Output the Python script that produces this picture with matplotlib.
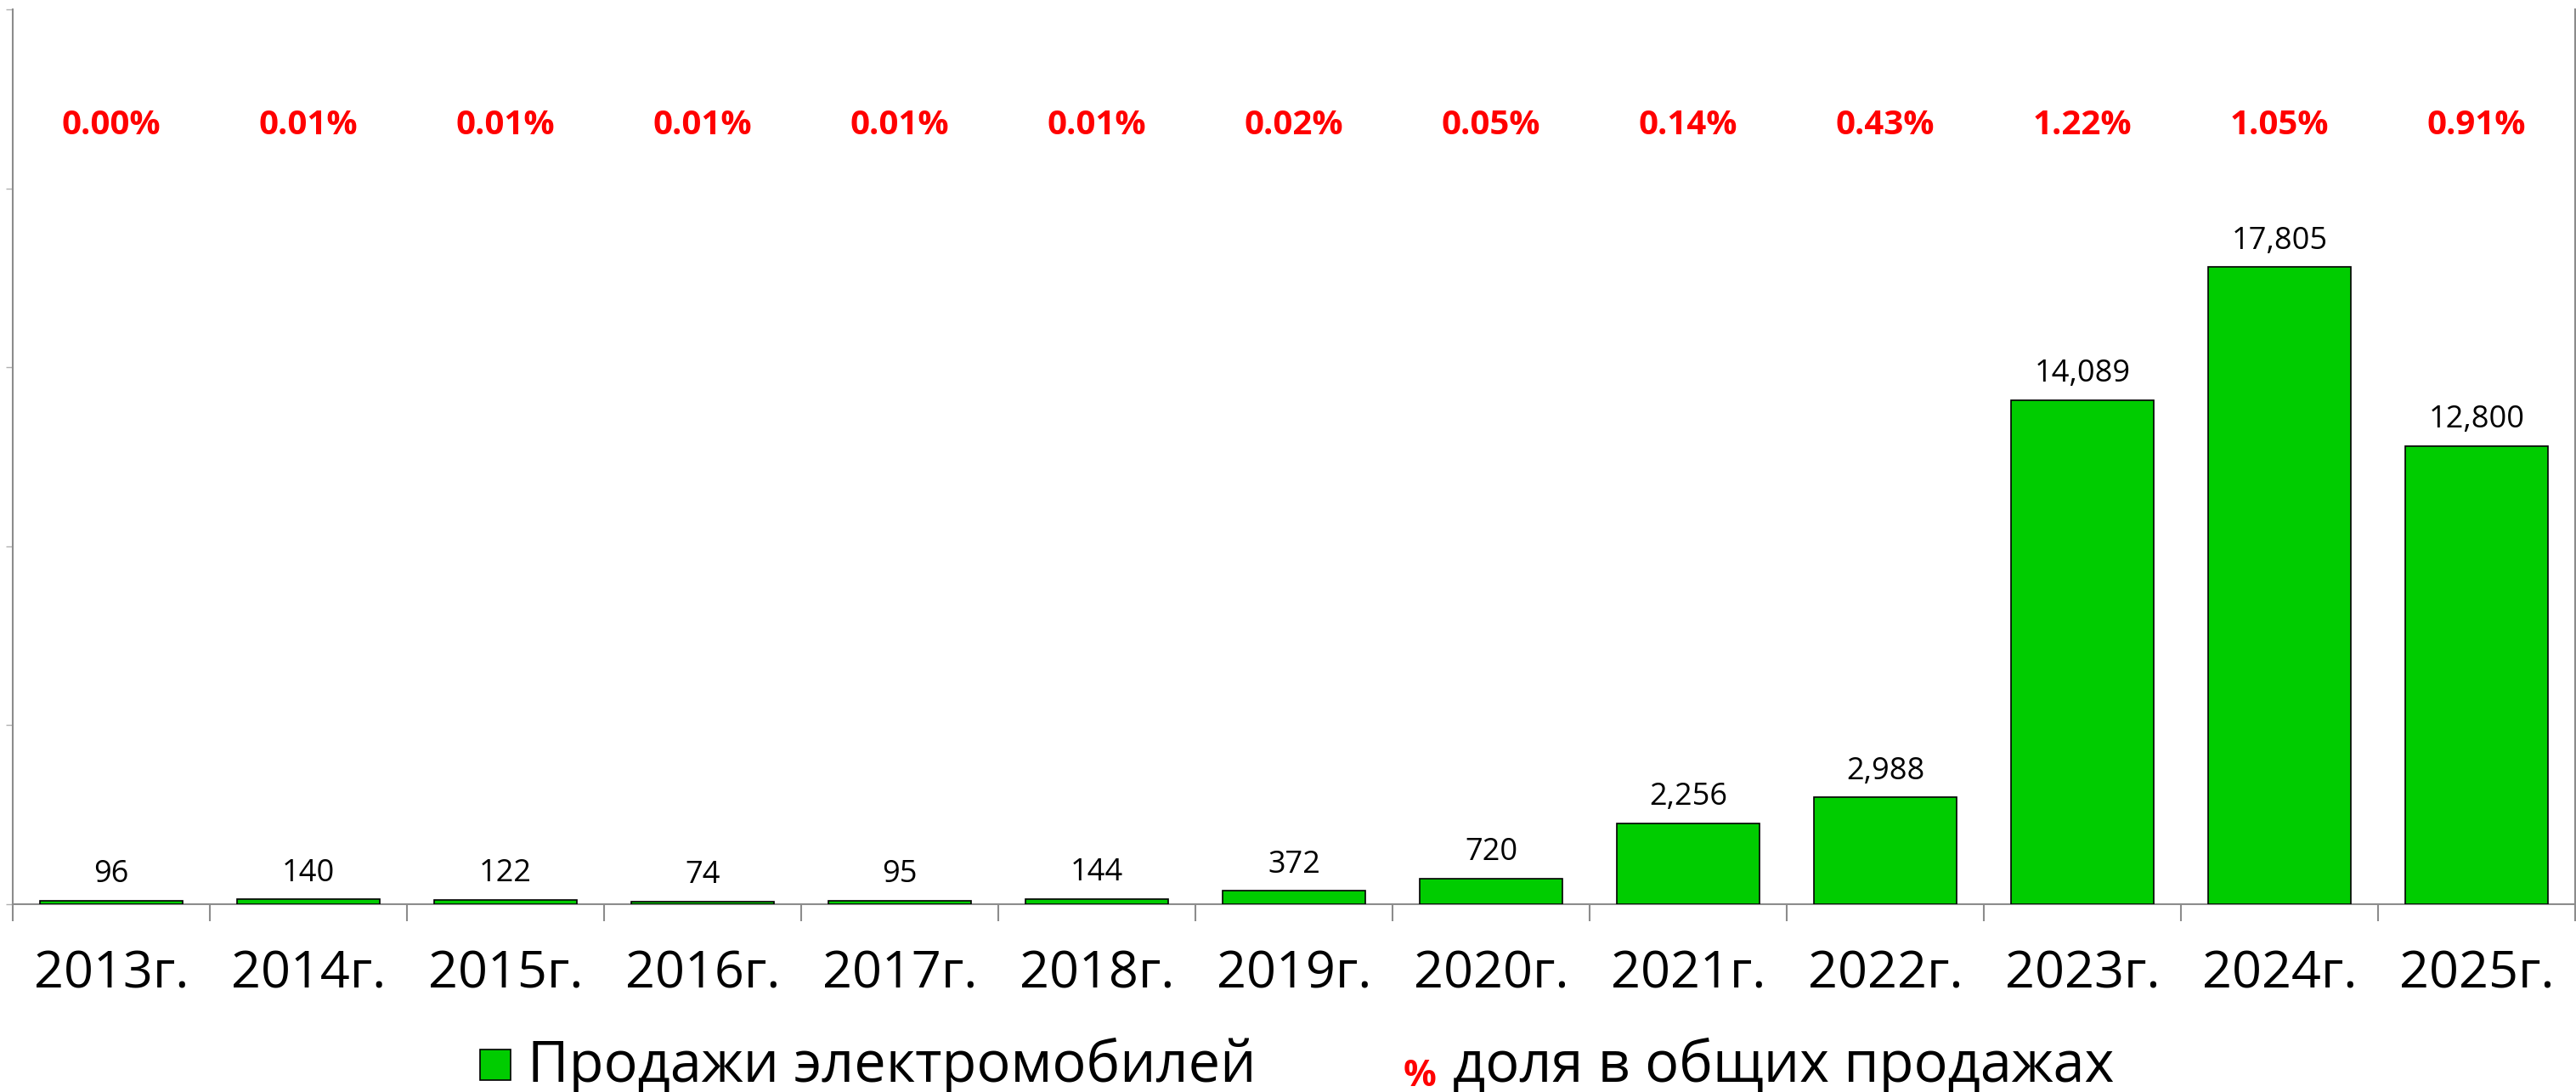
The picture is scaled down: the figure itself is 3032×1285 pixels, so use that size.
import matplotlib
matplotlib.use("Agg")
import matplotlib.pyplot as plt
from matplotlib.patches import Rectangle
from matplotlib.ticker import FixedLocator, NullFormatter
import matplotlib.transforms as mtransforms

plt.rcParams['font.family'] = ['Open Sans', 'DejaVu Sans']

years = ["2013г.", "2014г.", "2015г.", "2016г.", "2017г.", "2018г.", "2019г.",
         "2020г.", "2021г.", "2022г.", "2023г.", "2024г.", "2025г."]
sales = [96, 140, 122, 74, 95, 144, 372, 720, 2256, 2988, 14089, 17805, 12800]
share = ["0.00%", "0.01%", "0.01%", "0.01%", "0.01%", "0.01%", "0.02%",
         "0.05%", "0.14%", "0.43%", "1.22%", "1.05%", "0.91%"]
legend_sales = "Продажи электромобилей"
legend_share = "доля в общих продажах"

W, H = 3032, 1285
fig = plt.figure(figsize=(W / 100, H / 100), dpi=100)
ax = fig.add_axes([15 / W, 1 - 1064 / H, (3031 - 15) / W, (1064 - 11) / H])

x = list(range(len(years)))
bars = ax.bar(x, sales, width=0.725, color="#00CC00", edgecolor="black", linewidth=1.2, zorder=3)
ax.set_xlim(-0.5, len(years) - 0.5)
ax.set_ylim(0, 25000)

grey = "#8c8c8c"
ax.spines["top"].set_visible(False)
for s in ["left", "bottom", "right"]:
    ax.spines[s].set_color(grey)
    ax.spines[s].set_linewidth(1.5)

ax.set_xticks(x)
ax.set_xticklabels(years, fontsize=44)
ax.xaxis.set_minor_locator(FixedLocator([i - 0.5 for i in range(len(years) + 1)]))
ax.tick_params(axis="x", which="major", length=0, pad=38)
ax.tick_params(axis="x", which="minor", length=14.5, width=1.5, color=grey)

ax.set_yticks(range(0, 25001, 5000))
ax.yaxis.set_major_formatter(NullFormatter())
ax.tick_params(axis="y", which="major", length=6, width=1, color="#b0b0b0")

ax2 = ax.twinx()
ax2.set_ylim(0, 6)
ax2.set_yticks(range(0, 7))
ax2.yaxis.set_major_formatter(NullFormatter())
ax2.tick_params(axis="y", length=6, width=1, color="#b0b0b0")
for s in ["top", "left", "bottom"]:
    ax2.spines[s].set_visible(False)
ax2.spines["right"].set_color(grey)
ax2.spines["right"].set_linewidth(1.5)

labels = [f"{v:,}" for v in sales]
ax.bar_label(bars, labels=labels, padding=9, fontsize=26, color="black")

trans = mtransforms.blended_transform_factory(ax.transData, ax.transAxes)
for xi, s in zip(x, share):
    ax.text(xi, (1064 - 148) / 1053, s, transform=trans, ha="center", va="center",
            fontsize=29, fontweight="bold", color="#FF0000")

# legend
fig.patches.append(Rectangle((565 / W, 1 - 1271 / H), 36 / W, 36 / H, transform=fig.transFigure,
                             facecolor="#00CC00", edgecolor="black", linewidth=1.2))
fig.text(621 / W, 1 - 1273 / H, legend_sales, fontsize=48, ha="left", va="baseline")
fig.text(1652 / W, 1 - 1278 / H, "%", fontsize=31, fontweight="bold", color="#FF0000",
         ha="left", va="baseline")
fig.text(1710 / W, 1 - 1273 / H, legend_share, fontsize=48, ha="left", va="baseline")

fig.savefig("out.png", dpi=100, facecolor="white")
